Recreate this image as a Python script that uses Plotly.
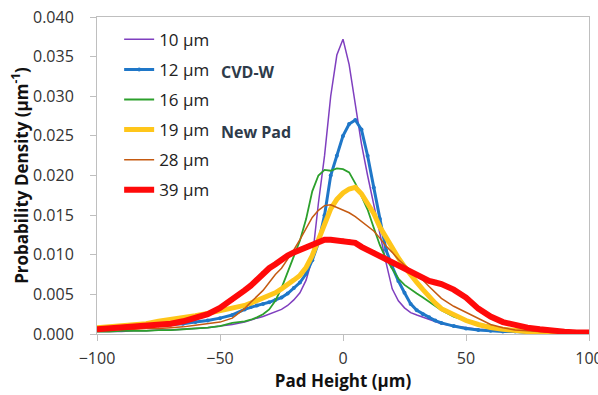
import plotly.graph_objects as go

# Pad height grid (um)
x_vals = [-100, -95, -90, -85, -80, -75, -70, -65, -60, -55, -50, -45,
          -40, -37.5, -35, -32.5, -30, -27.5, -25, -22.5, -20, -17.5, -15, -12.5,
          -10, -7.5, -5, -2.5, 0, 2.5, 5, 7.5, 10, 12.5, 15, 17.5, 20, 22.5, 25,
          27.5, 30, 32.5, 35, 37.5, 40,
          45, 50, 55, 60, 65, 70, 75, 80, 85, 90, 95, 100]

d10 = [0.0003, 0.0003, 0.0003, 0.0004, 0.0004, 0.0005, 0.0005, 0.0006, 0.0007, 0.0008, 0.0010, 0.0012,
       0.0015, 0.0018, 0.0020, 0.0022, 0.0025, 0.0028, 0.0031, 0.0036, 0.0043, 0.0052, 0.0068, 0.0095,
       0.0165, 0.0225, 0.0300, 0.0352, 0.0372, 0.0340, 0.0292, 0.0240, 0.0200, 0.0162, 0.0128, 0.0090,
       0.0057, 0.0042, 0.0033, 0.0027, 0.0024, 0.0021, 0.0018, 0.0015, 0.0013,
       0.0010, 0.0008, 0.0006, 0.0005, 0.0004, 0.0003, 0.0003, 0.0002, 0.0002, 0.0002, 0.0001, 0.0001]

d12 = [0.0007, 0.0008, 0.0008, 0.0009, 0.0010, 0.0011, 0.0012, 0.0013, 0.0015, 0.0017, 0.0020, 0.0024,
       0.0031, 0.0034, 0.0036, 0.0038, 0.0040, 0.0043, 0.0046, 0.0051, 0.0058, 0.0065, 0.0076, 0.0093,
       0.0115, 0.0150, 0.0200, 0.0225, 0.0250, 0.0265, 0.0270, 0.0258, 0.0225, 0.0185, 0.0145, 0.0106,
       0.0085, 0.0067, 0.0052, 0.0038, 0.0030, 0.0025, 0.0021, 0.0017, 0.0014,
       0.0010, 0.0007, 0.0005, 0.0004, 0.0003, 0.0003, 0.0002, 0.0002, 0.0002, 0.0001, 0.0001, 0.0001]

d16 = [0.0003, 0.0003, 0.0004, 0.0004, 0.0004, 0.0005, 0.0005, 0.0006, 0.0007, 0.0008, 0.0010, 0.0014,
       0.0016, 0.0018, 0.0021, 0.0025, 0.0031, 0.0042, 0.0058, 0.0077, 0.0098, 0.0118, 0.0145, 0.0180,
       0.0200, 0.0207, 0.0206, 0.0209, 0.0208, 0.0204, 0.0190, 0.0174, 0.0157, 0.0134, 0.0112, 0.0095,
       0.0082, 0.0070, 0.0062, 0.0056, 0.0051, 0.0046, 0.0041, 0.0035, 0.0030,
       0.0022, 0.0017, 0.0013, 0.0010, 0.0007, 0.0006, 0.0005, 0.0004, 0.0003, 0.0003, 0.0002, 0.0002]

d19 = [0.0008, 0.0009, 0.0010, 0.0012, 0.0013, 0.0016, 0.0018, 0.0020, 0.0023, 0.0026, 0.0029, 0.0033,
       0.0036, 0.0039, 0.0042, 0.0045, 0.0048, 0.0052, 0.0057, 0.0062, 0.0068, 0.0074, 0.0084, 0.0099,
       0.0118, 0.0137, 0.0158, 0.0170, 0.0178, 0.0183, 0.0185, 0.0177, 0.0165, 0.0152, 0.0135, 0.0121,
       0.0108, 0.0096, 0.0085, 0.0074, 0.0065, 0.0056, 0.0047, 0.0039, 0.0032,
       0.0024, 0.0017, 0.0012, 0.0008, 0.0006, 0.0004, 0.0003, 0.0002, 0.0002, 0.0002, 0.0001, 0.0001]

d28 = [0.0005, 0.0005, 0.0006, 0.0006, 0.0007, 0.0007, 0.0008, 0.0009, 0.0011, 0.0013, 0.0015, 0.0020,
       0.0032, 0.0040, 0.0048, 0.0055, 0.0065, 0.0075, 0.0083, 0.0094, 0.0106, 0.0119, 0.0134, 0.0147,
       0.0156, 0.0162, 0.0163, 0.0160, 0.0157, 0.0153, 0.0148, 0.0142, 0.0136, 0.0130, 0.0121, 0.0111,
       0.0103, 0.0094, 0.0087, 0.0081, 0.0075, 0.0068, 0.0060, 0.0052, 0.0045,
       0.0035, 0.0027, 0.0019, 0.0012, 0.0008, 0.0005, 0.0004, 0.0003, 0.0002, 0.0002, 0.0001, 0.0001]

d39 = [0.0006, 0.0007, 0.0008, 0.0009, 0.0010, 0.0011, 0.0013, 0.0016, 0.0020, 0.0025, 0.0033, 0.0043,
       0.0055, 0.0061, 0.0069, 0.0077, 0.0083, 0.0088, 0.0094, 0.0099, 0.0103, 0.0106, 0.0109, 0.0112,
       0.0116, 0.0119, 0.0119, 0.0118, 0.0118, 0.0117, 0.0115, 0.0110, 0.0106, 0.0103, 0.0098, 0.0093,
       0.0089, 0.0086, 0.0083, 0.0079, 0.0075, 0.0071, 0.0067, 0.0065, 0.0063,
       0.0056, 0.0046, 0.0032, 0.0022, 0.0015, 0.0011, 0.0008, 0.0006, 0.0004, 0.0003, 0.0002, 0.0002]

names = ["10 µm", "12 µm", "16 µm", "19 µm", "28 µm", "39 µm"]
series = [d10, d12, d16, d19, d28, d39]
colors = ["#7F3FBF", "#1F77C8", "#2CA02C", "#FFC61A", "#C55A11", "#FF0A0A"]
widths = [1.5, 3, 1.8, 5, 1.5, 6]
markers = [False, True, False, False, False, True]

fig = go.Figure()
for i, (nm, ys, c, w, m) in enumerate(zip(names, series, colors, widths, markers)):
    fig.add_trace(go.Scatter(
        x=x_vals, y=ys, name=nm, legendgroup=str(i),
        mode="lines+markers" if m else "lines",
        line=dict(color=c, width=w),
        marker=dict(size=4, color=c) if m else None,
    ))

ann_font = dict(family="Open Sans", size=16, color="#2E3B4A")
fig.add_annotation(xref="paper", yref="paper", x=(219 - 97) / 492, y=(334 - 72) / 317,
                   xanchor="left", yanchor="middle", text="<b>CVD-W</b>",
                   showarrow=False, font=ann_font)
fig.add_annotation(xref="paper", yref="paper", x=(219 - 97) / 492, y=(334 - 132) / 317,
                   xanchor="left", yanchor="middle", text="<b>New Pad</b>",
                   showarrow=False, font=ann_font)

axis_common = dict(showline=True, linecolor="#BFBFBF", linewidth=1, mirror=True,
                   showgrid=False, zeroline=False, ticks="outside", ticklen=6,
                   tickcolor="#BFBFBF", automargin=False,
                   tickfont=dict(family="Open Sans", size=16, color="#333333"))

title_font = dict(family="Open Sans", size=17, color="#111111")

fig.update_layout(
    width=598, height=395,
    margin=dict(l=97, r=9, t=17, b=61),
    plot_bgcolor="white", paper_bgcolor="white",
    font=dict(family="Open Sans", size=16, color="#222222"),
    showlegend=True,
    legend=dict(x=0.045, y=0.985, xanchor="left", yanchor="top",
                bgcolor="rgba(0,0,0,0)", tracegroupgap=5,
                font=dict(family="Open Sans", size=17, color="#222222"),
                itemwidth=30),
    xaxis=dict(range=[-100, 100], dtick=50, tick0=0, ticklabelstandoff=4,
               ticklabeloverflow="allow",
               title=dict(text="<b>Pad Height (µm)</b>", standoff=4, font=title_font),
               **axis_common),
    yaxis=dict(range=[0, 0.04], dtick=0.005, tickformat=".3f", ticklabelstandoff=13,
               title=dict(text="<b>Probability Density (µm<sup>-1</sup>)</b>", standoff=0,
                          font=title_font),
               **axis_common),
)

fig.write_html("out.html")
